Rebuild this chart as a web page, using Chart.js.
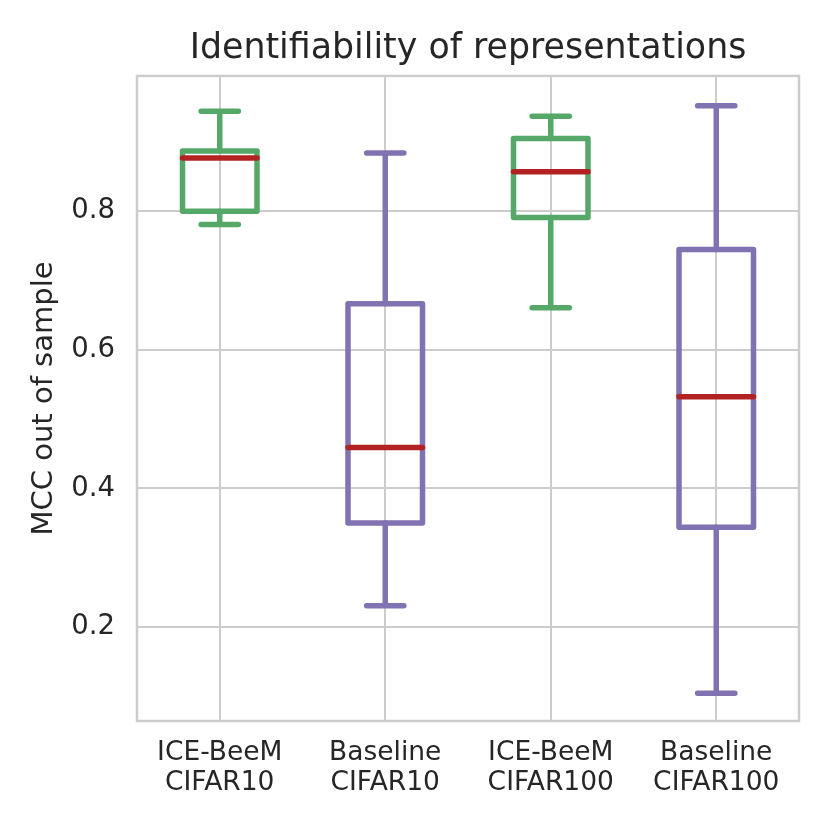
<!DOCTYPE html>
<html>
<head>
<meta charset="utf-8">
<script src="https://cdn.jsdelivr.net/npm/chart.js@4.4.1/dist/chart.umd.min.js"></script>
<style>
  html, body { margin: 0; padding: 0; background: #ffffff; }
  #wrap { width: 830px; height: 830px; }
</style>
</head>
<body>
<div id="wrap"><canvas id="chart" width="830" height="830"></canvas></div>
<script>
// box plot stats
const categories = [
  ['ICE-BeeM', 'CIFAR10'],
  ['Baseline', 'CIFAR10'],
  ['ICE-BeeM', 'CIFAR100'],
  ['Baseline', 'CIFAR100'],
];
const whiskerLow  = [0.780, 0.231, 0.660, 0.105];
const q1          = [0.799, 0.350, 0.790, 0.344];
const median      = [0.876, 0.459, 0.856, 0.532];
const q3          = [0.886, 0.666, 0.904, 0.744];
const whiskerHigh = [0.943, 0.883, 0.936, 0.951];
const yTicks = [0.2, 0.4, 0.6, 0.8];

const boxColors = ['#55a868', '#8172b2', '#55a868', '#8172b2'];
const medianColor = '#b22222';
const gridColor = '#cccccc';
const textColor = '#262626';
const font = 'DejaVu Sans';
const lw = 5.5;

// box outlines (from the bar elements), whiskers, caps, medians, frame
const boxExtras = {
  id: 'boxExtras',
  afterDatasetsDraw(chart) {
    const { ctx, chartArea, scales: { x, y } } = chart;
    const bars = chart.getDatasetMeta(0).data;
    ctx.save();
    ctx.lineWidth = lw;
    ctx.lineCap = 'round';
    ctx.lineJoin = 'round';
    for (let i = 0; i < categories.length; i++) {
      const cx = x.getPixelForValue(i);
      const hi = y.getPixelForValue(whiskerHigh[i]);
      const lo = y.getPixelForValue(whiskerLow[i]);
      const top = y.getPixelForValue(q3[i]);
      const bot = y.getPixelForValue(q1[i]);
      const half = bars[i].width / 2 - lw / 2;
      ctx.strokeStyle = boxColors[i];
      ctx.strokeRect(cx - half, top, half * 2, bot - top);
      ctx.beginPath();
      ctx.moveTo(cx, top); ctx.lineTo(cx, hi);
      ctx.moveTo(cx, bot); ctx.lineTo(cx, lo);
      ctx.moveTo(cx - half / 2, hi); ctx.lineTo(cx + half / 2, hi);
      ctx.moveTo(cx - half / 2, lo); ctx.lineTo(cx + half / 2, lo);
      ctx.stroke();
      const m = y.getPixelForValue(median[i]);
      ctx.strokeStyle = medianColor;
      ctx.beginPath();
      ctx.moveTo(cx - half, m); ctx.lineTo(cx + half, m);
      ctx.stroke();
    }
    ctx.strokeStyle = gridColor;
    ctx.lineWidth = 2.5;
    ctx.lineCap = 'butt';
    ctx.lineJoin = 'miter';
    ctx.strokeRect(chartArea.left, chartArea.top,
      chartArea.right - chartArea.left, chartArea.bottom - chartArea.top);
    ctx.restore();
  }
};

new Chart(document.getElementById('chart').getContext('2d'), {
  type: 'bar',
  data: {
    labels: categories,
    datasets: [{
      data: q1.map((v, i) => [v, q3[i]]),
      backgroundColor: 'rgba(0,0,0,0)',
      borderColor: boxColors,
      borderWidth: 0,
      barPercentage: 1,
      categoryPercentage: 0.4834,
    }],
  },
  options: {
    responsive: false,
    animation: false,
    layout: { padding: { left: 0, right: 31, top: 0, bottom: 0 } },
    scales: {
      x: {
        grid: { color: gridColor, lineWidth: 2, offset: false, drawTicks: false },
        border: { display: false },
        ticks: {
          color: textColor,
          padding: 17,
          font: { family: font, size: 26.5, lineHeight: 1.132 },
        },
        afterFit(scale) { scale.height = 109; },
      },
      y: {
        min: 0.065,
        max: 0.994,
        grid: { color: gridColor, lineWidth: 2, drawTicks: false },
        border: { display: false },
        afterBuildTicks(scale) { scale.ticks = yTicks.map(v => ({ value: v })); },
        ticks: {
          color: textColor,
          padding: 22,
          font: { family: font, size: 27.5 },
          callback: v => v.toFixed(1),
        },
        title: {
          display: true,
          text: 'MCC out of sample',
          color: textColor,
          font: { family: font, size: 29, lineHeight: 1.2 },
          padding: { top: 27, bottom: 0 },
        },
        afterFit(scale) { scale.width = 137; },
      },
    },
    plugins: {
      legend: { display: false },
      tooltip: { enabled: false },
      title: {
        display: true,
        fullSize: false,
        text: 'Identifiability of representations',
        color: textColor,
        font: { family: font, size: 34.8, weight: 'normal', lineHeight: 1.2 },
        padding: { top: 28, bottom: 6.2 },
      },
    },
  },
  plugins: [boxExtras],
});
</script>
</body>
</html>
